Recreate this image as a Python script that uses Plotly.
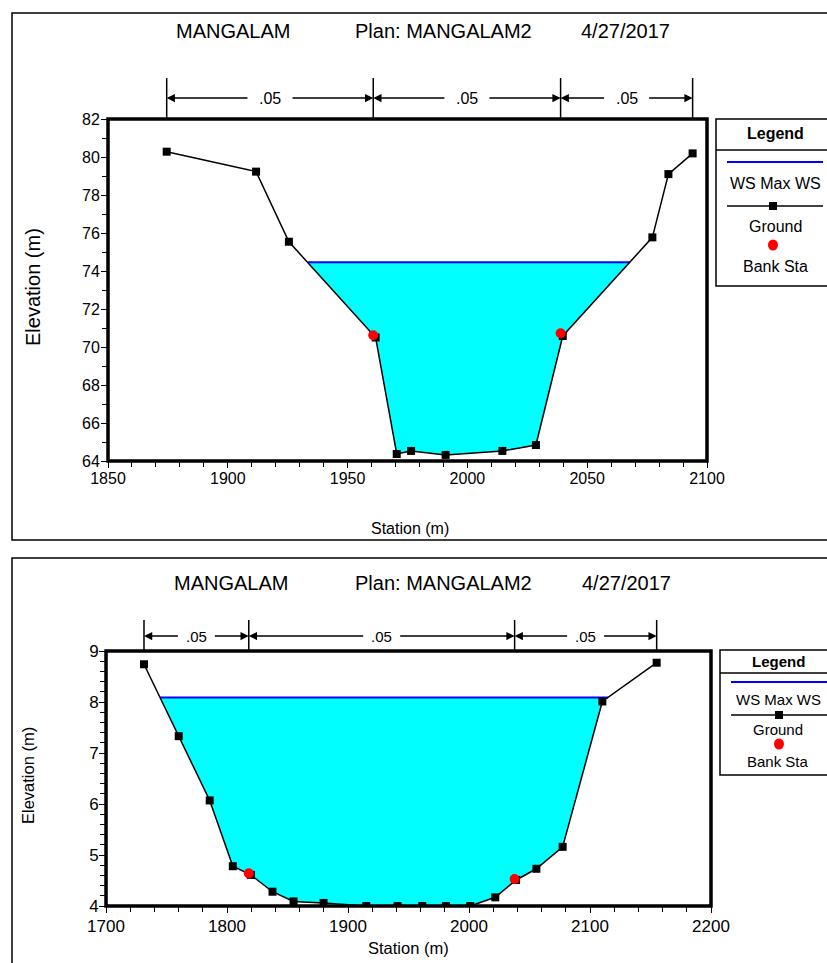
import numpy as np
import plotly.graph_objects as go

W, H = 827, 963
OX, OY = 0, 0
FONT = "Liberation Sans, Arial, sans-serif"

title_parts = ["MANGALAM", "Plan: MANGALAM2", "4/27/2017"]
legend_labels = ["Legend", "WS Max WS", "Ground", "Bank Sta"]

# ---------------- top cross section ----------------
sta1 = [1874.5, 1911.8, 1925.5, 1961.7, 1970.5, 1976.5, 1990.9, 2014.6, 2028.6,
        2039.8, 2077.2, 2083.9, 2094.0]
elev1 = [80.28, 79.23, 75.54, 70.50, 64.37, 64.53, 64.32, 64.53, 64.84,
         70.58, 75.77, 79.10, 80.19]
ws1 = 74.46
bank_sta1 = [1960.7, 2038.9]
bank_elev1 = [70.62, 70.72]
n_vals1 = [".05", ".05", ".05"]
xticks1 = [1850, 1900, 1950, 2000, 2050, 2100]
yticks1 = [64, 66, 68, 70, 72, 74, 76, 78, 80, 82]

# ---------------- bottom cross section ----------------
sta2 = [1731.4, 1760.1, 1785.7, 1804.8, 1819.7, 1837.6, 1855.0, 1879.8, 1915.1,
        1941.0, 1961.4, 1980.9, 2001.0, 2021.7, 2038.9, 2055.7, 2077.4, 2110.2, 2155.1]
elev2 = [8.74, 7.33, 6.07, 4.78, 4.61, 4.28, 4.09, 4.06, 4.00,
         4.00, 4.00, 4.00, 4.00, 4.17, 4.51, 4.73, 5.16, 8.01, 8.77]
ws2 = 8.09
bank_sta2 = [1818.0, 2037.7]
bank_elev2 = [4.64, 4.53]
n_vals2 = [".05", ".05", ".05"]
xticks2 = [1700, 1800, 1900, 2000, 2100, 2200]
yticks2 = [4, 5, 6, 7, 8, 9]


def water(sta, elev, ws):
    xs, ys, cross = [], [], []
    n = len(sta)
    for i in range(n):
        if elev[i] <= ws:
            xs.append(sta[i]); ys.append(elev[i])
        if i < n - 1 and (elev[i] - ws) * (elev[i + 1] - ws) < 0:
            t = (ws - elev[i]) / (elev[i + 1] - elev[i])
            xc = sta[i] + t * (sta[i + 1] - sta[i])
            xs.append(xc); ys.append(ws); cross.append(xc)
    return xs, ys, min(cross), max(cross)


def py(p):
    return 1 - (p - OY) / H


def px(p):
    return (p - OX) / W


fig = go.Figure()
shapes = []
annos = []


def add_section(sta, elev, ws, bsta, belev, xa, ya, msize, bsize):
    xs, ys, xl, xr = water(sta, elev, ws)
    fig.add_trace(go.Scatter(x=xs, y=ys, fill="toself", fillcolor="#00ffff",
                             mode="none", xaxis=xa, yaxis=ya, hoverinfo="skip"))
    fig.add_trace(go.Scatter(x=[xl, xr], y=[ws, ws], mode="lines",
                             line=dict(color="#0000ff", width=2), xaxis=xa, yaxis=ya))
    fig.add_trace(go.Scatter(x=sta, y=elev, mode="lines+markers",
                             line=dict(color="black", width=1.5),
                             marker=dict(symbol="square", size=msize, color="black"),
                             xaxis=xa, yaxis=ya))
    fig.add_trace(go.Scatter(x=bsta, y=belev, mode="markers",
                             marker=dict(symbol="circle", size=bsize, color="#ff0000"),
                             xaxis=xa, yaxis=ya))


add_section(sta1, elev1, ws1, bank_sta1, bank_elev1, "x", "y", 8, 10)
add_section(sta2, elev2, ws2, bank_sta2, bank_elev2, "x2", "y2", 8, 10)


def roughness(bounds, vals, xref, top_px, arrow_px, bottom_px, fsize, gap):
    # gap: half width of the blank around each label, in station units
    for b in bounds:
        shapes.append(dict(type="line", xref=xref, yref="paper", x0=b, x1=b,
                           y0=py(bottom_px), y1=py(top_px),
                           line=dict(color="black", width=1.5)))
    for i, v in enumerate(vals):
        a, b = bounds[i], bounds[i + 1]
        m = 0.5 * (a + b)
        for end, start in ((a, m - gap), (b, m + gap)):
            annos.append(dict(x=end, y=py(arrow_px), xref=xref, yref="paper",
                              ax=start, ay=0, axref=xref, ayref="pixel", text="",
                              showarrow=True, arrowhead=2, arrowsize=1.1,
                              arrowwidth=1.5, arrowcolor="black"))
        annos.append(dict(x=m, y=py(arrow_px), xref=xref, yref="paper", text=v,
                          showarrow=False, xanchor="center", yanchor="middle",
                          font=dict(size=fsize, color="black", family=FONT)))


# label half-gaps (~21 px and ~17 px) converted to station units via each axis scale
gap1 = 21 * (2100 - 1850) / (707 - 108)
gap2 = 17 * (2200 - 1700) / (711 - 106)
roughness([sta1[0], bank_sta1[0], bank_sta1[1], sta1[-1]], n_vals1, "x", 78, 98, 119, 16, gap1)
roughness([sta2[0], bank_sta2[0], bank_sta2[1], sta2[-1]], n_vals2, "x2", 620, 636, 651, 15, gap2)


def text(x, y, t, size, bold=False, angle=0):
    annos.append(dict(x=px(x), y=py(y), xref="paper", yref="paper",
                      text=("<b>%s</b>" % t) if bold else t, showarrow=False,
                      xanchor="center", yanchor="middle", textangle=angle,
                      font=dict(size=size, color="black", family=FONT)))


# titles
for (cx, t) in zip([233, 443, 625], title_parts):
    text(cx, 31, t, 20)
for (cx, t) in zip([231, 443, 626], title_parts):
    text(cx, 583, t, 20)

# axis titles
text(33, 287, "Elevation (m)", 20, angle=-90)
text(410, 528, "Station (m)", 16)
text(28, 776, "Elevation (m)", 16.5, angle=-90)
text(408, 948, "Station (m)", 16.5)


def legend(x0, y0, y1, yhead, yline, yws, yws_t, yg_line, yg, yb_dot, yb, xl0, xl1, xc, msx, fs):
    shapes.append(dict(type="rect", xref="paper", yref="paper", x0=px(x0), x1=px(845),
                       y0=py(y1), y1=py(y0), line=dict(color="black", width=1.5)))
    shapes.append(dict(type="line", xref="paper", yref="paper", x0=px(x0), x1=px(845),
                       y0=py(yline), y1=py(yline), line=dict(color="black", width=1.5)))
    text(xc, yhead, legend_labels[0], fs, bold=True)
    shapes.append(dict(type="line", xref="paper", yref="paper", x0=px(xl0), x1=px(xl1),
                       y0=py(yws), y1=py(yws), line=dict(color="#0000ff", width=2)))
    text(xc, yws_t, legend_labels[1], fs)
    shapes.append(dict(type="line", xref="paper", yref="paper", x0=px(xl0), x1=px(xl1),
                       y0=py(yg_line), y1=py(yg_line), line=dict(color="black", width=1.5)))
    shapes.append(dict(type="rect", xref="paper", yref="paper", x0=px(msx - 4), x1=px(msx + 4),
                       y0=py(yg_line + 4), y1=py(yg_line - 4), fillcolor="black",
                       line=dict(width=0)))
    text(xc, yg, legend_labels[2], fs)
    shapes.append(dict(type="circle", xref="paper", yref="paper", x0=px(msx - 5), x1=px(msx + 5),
                       y0=py(yb_dot + 5.5), y1=py(yb_dot - 5.5), fillcolor="#ff0000",
                       line=dict(width=0)))
    text(xc, yb, legend_labels[3], fs)


legend(716, 119, 286, 134, 150, 162, 184, 206, 226, 245, 267, 727, 823, 775, 773, 16)
legend(720, 650, 775, 661, 673, 682, 699, 715, 729, 744, 761, 731, 830, 778, 779, 15)

# outer frames
shapes.append(dict(type="rect", xref="paper", yref="paper", x0=px(12), x1=px(845),
                   y0=py(540), y1=py(13), line=dict(color="black", width=1.5)))
shapes.append(dict(type="rect", xref="paper", yref="paper", x0=px(12), x1=px(845),
                   y0=py(990), y1=py(558), line=dict(color="black", width=1.5)))

# plot area thick frames
for xr, yr in (("x", "y"), ("x2", "y2")):
    shapes.append(dict(type="rect", xref=xr + " domain", yref=yr + " domain",
                       x0=0, x1=1, y0=0, y1=1, line=dict(color="black", width=3.5)))


def axis(dom, rng, ticks, minor, anchor, fs, standoff):
    return dict(domain=dom, range=rng, anchor=anchor, tickvals=ticks,
                ticktext=[str(t) for t in ticks], ticks="outside", ticklen=6,
                tickwidth=1, tickcolor="black", showline=True, linecolor="black",
                linewidth=1, showgrid=False, zeroline=False, automargin=False,
                ticklabelstandoff=standoff,
                minor=dict(dtick=minor, ticks="outside", ticklen=5, tickcolor="black",
                           showgrid=False),
                tickfont=dict(size=fs, color="black", family=FONT))


fig.update_layout(
    width=W, height=H, margin=dict(l=0, r=0, t=0, b=0, pad=0, autoexpand=False),
    paper_bgcolor="white", plot_bgcolor="white", showlegend=False,
    xaxis=axis([px(108), px(707)], [1850, 2100], xticks1, 10, "y", 16, -3),
    yaxis=axis([py(461), py(119)], [64, 82], yticks1, 1, "x", 16, -2),
    xaxis2=axis([px(106), px(711)], [1700, 2200], xticks2, 20, "y2", 17, -1),
    yaxis2=axis([py(906), py(651)], [4, 9], yticks2, 0.2, "x2", 17, -3),
    shapes=shapes, annotations=annos,
)

fig.write_html("out.html", config={"displayModeBar": False},
               post_script="document.body.style.margin='0';"
                           "document.body.style.overflow='hidden';")
